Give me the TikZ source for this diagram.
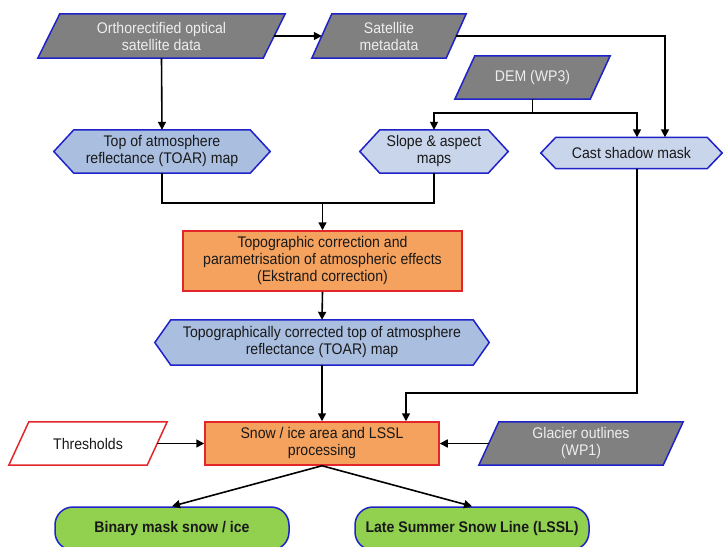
\documentclass[tikz,border=0pt]{standalone}
\usepackage{fontspec}
\setmainfont{Liberation Sans}[FakeStretch=0.915]
\usetikzlibrary{calc,arrows.meta}
\pgfdeclarelayer{background}
\pgfsetlayers{background,main}

\definecolor{datagray}{HTML}{808080}
\definecolor{edgeblue}{HTML}{1E22C8}
\definecolor{edgered}{HTML}{E3262A}
\definecolor{hexblue}{HTML}{AABEE0}
\definecolor{hexlight}{HTML}{C9D5EB}
\definecolor{procorange}{HTML}{F5A25E}
\definecolor{outgreen}{HTML}{92D050}
\definecolor{lighttext}{HTML}{EEEEEE}

% parallelogram around a node body: #1 node, #2 half slant, #3 style
\newcommand\dataoutline[3]{%
  \path[#3] ($(#1.south west)+(-#2,0)$) -- ($(#1.north west)+(#2,0)$)
    -- ($(#1.north east)+(#2,0)$) -- ($(#1.south east)+(-#2,0)$) -- cycle;}
% hexagon around a node body: #1 node, #2 tip length, #3 style
\newcommand\hexoutline[3]{%
  \path[#3] ($(#1.west)+(-#2,0)$) -- (#1.north west) -- (#1.north east)
    -- ($(#1.east)+(#2,0)$) -- (#1.south east) -- (#1.south west) -- cycle;}

\tikzset{
  txt/.style={rectangle, inner sep=0pt, align=center,
    font=\fontsize{15.4}{17}\selectfont, text=black!90},
  datatxt/.style={txt, text=lighttext},
  border/.style={line width=1.5pt, line join=miter},
  datashape/.style={border, fill=datagray, draw=edgeblue},
  hexdark/.style={border, fill=hexblue, draw=edgeblue},
  hexpale/.style={border, fill=hexlight, draw=edgeblue},
  thrshape/.style={border, fill=white, draw=edgered},
  procbox/.style={txt, border, fill=procorange, draw=edgered},
  outbox/.style={txt, border, fill=outgreen, draw=edgeblue,
    rounded corners=18pt, font=\fontsize{15.4}{17}\selectfont\bfseries},
  wire/.style={line width=1.6pt},
  conn/.style={wire, -{Triangle[length=8pt,width=8pt]}},
}

\begin{document}
\begin{tikzpicture}[x=1pt, y=-1pt]
\useasboundingbox (0,0) rectangle (724,547);

% input data
\node[datatxt, minimum width=225pt, minimum height=44pt] (ortho) at (161.5,36)
  {Orthorectified optical\\satellite data};
\node[datatxt, minimum width=134pt, minimum height=44pt] (sat) at (389,36)
  {Satellite\\metadata};
\node[datatxt, minimum width=135pt, minimum height=43pt] (dem) at (532.5,77.5)
  {DEM (WP3)};

% derived maps
\node[txt, minimum width=176pt, minimum height=43pt] (toar) at (162,151.5)
  {Top of atmosphere\\reflectance (TOAR) map};
\node[txt, minimum width=108pt, minimum height=43pt] (slope) at (434,151.5)
  {Slope \& aspect\\maps};
\node[txt, minimum width=151pt, minimum height=31pt] (cast) at (631.5,153)
  {Cast shadow mask};

% processing chain
\node[procbox, minimum width=279pt, minimum height=60pt] (topo) at (322.5,261)
  {Topographic correction and\\parametrisation of atmospheric effects\\(Ekstrand correction)};
\node[txt, minimum width=302pt, minimum height=45pt] (toar2) at (322,342.5)
  {Topographically corrected top of atmosphere\\reflectance (TOAR) map};
\node[procbox, minimum width=234pt, minimum height=43pt] (snow) at (322,443.5)
  {Snow / ice area and LSSL\\processing};

\node[txt, minimum width=138pt, minimum height=43pt] (thr) at (88,443.5)
  {Thresholds};
\node[datatxt, minimum width=184pt, minimum height=43pt] (glac) at (581,443.5)
  {Glacier outlines\\(WP1)};

% products
\node[outbox, minimum width=234pt, minimum height=43pt] (binary) at (172,528.5)
  {Binary mask snow / ice};
\node[outbox, minimum width=234pt, minimum height=43pt] (late) at (472,528.5)
  {Late Summer Snow Line (LSSL)};

\begin{pgfonlayer}{background}
  \dataoutline{ortho}{11}{datashape}
  \dataoutline{sat}{10}{datashape}
  \dataoutline{dem}{10}{datashape}
  \dataoutline{glac}{10}{datashape}
  \dataoutline{thr}{10}{thrshape}
  \hexoutline{toar}{20}{hexdark}
  \hexoutline{slope}{20}{hexpale}
  \hexoutline{cast}{15}{hexpale}
  \hexoutline{toar2}{16}{hexdark}
\end{pgfonlayer}

% connectors
\draw[conn] (ortho) -- (sat);
\draw[conn] (sat.east) -| ([xshift=33.5pt]cast.north);
\draw[wire] (dem.south) -- ++(0,14) coordinate (demsplit);
\draw[conn] (demsplit) -| (slope.north);
\draw[conn] (demsplit) -| ([xshift=5.5pt]cast.north);
\draw[conn] (ortho.south) -- (toar.north);

\draw[wire] (toar.south) -- ++(0,30) coordinate (mergeL) -| (slope.south);
\draw[conn] (mergeL -| topo.north) -- (topo.north);
\draw[conn] (topo.south) -- (toar2.north);
\draw[conn] (toar2.south) -- (snow.north);
\draw[conn] ([xshift=5.5pt]cast.south) -- ++(0,224) -| ([xshift=84pt]snow.north);

\draw[conn] (thr.east) -- (snow.west);
\draw[conn] (glac.west) -- (snow.east);
\draw[conn] (snow.south) -- (binary.north);
\draw[conn] (snow.south) -- (late.north);
\end{tikzpicture}
\end{document}
